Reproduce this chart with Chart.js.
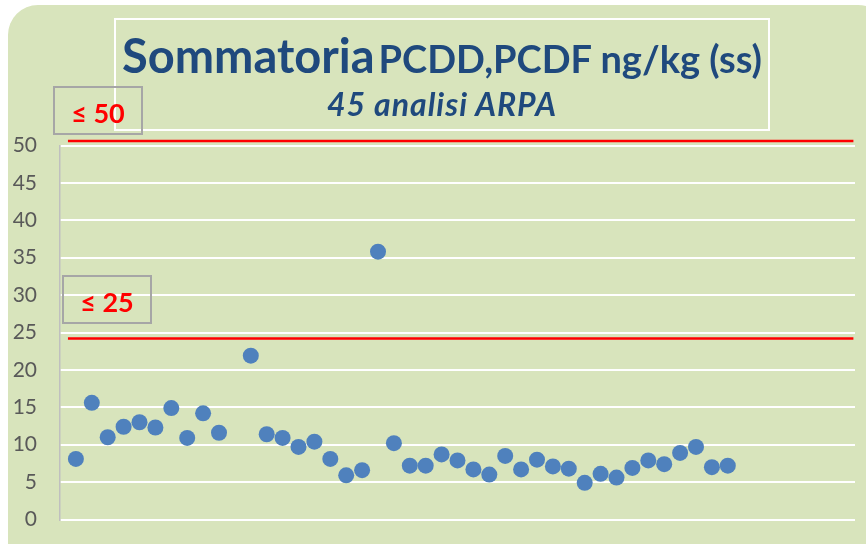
<!DOCTYPE html>
<html>
<head>
<meta charset="utf-8">
<script src="https://cdn.jsdelivr.net/npm/chart.js@4"></script>
<style>
  html, body { margin: 0; padding: 0; background: #ffffff; }
  #wrap { position: relative; width: 866px; height: 544px; overflow: hidden; background: #ffffff; }
  #card { position: absolute; left: 8px; top: 5px; width: 880px; height: 580px; background: #D8E4BC; border-radius: 30px; }
  #chart { position: absolute; left: 0; top: 0; }
  .box { position: absolute; box-sizing: border-box; }
  #titleBox { left: 114px; top: 18px; width: 656px; height: 113px; border: 2px solid #ffffff; }
  #t1 { position: absolute; left: 0; width: 100%; top: 12px; text-align: center; white-space: nowrap;
        font-family: Lato, "Open Sans", sans-serif; font-weight: bold; color: #1F497D; line-height: 1; }
  #t1 .big { font-size: 47px; }
  #t1 .small { font-size: 38px; }
  #t2 { position: absolute; left: 0; width: 100%; top: 68px; text-align: center; white-space: nowrap;
        font-family: Lato, "Open Sans", sans-serif; font-weight: bold; font-style: italic; font-size: 32px;
        letter-spacing: 1px; color: #1F497D; line-height: 1; }
  .lim { border: 2px solid #A6A6A6; width: 90px; height: 49px; color: #FF0000; font-family: Lato, "Open Sans", sans-serif;
         font-weight: bold; font-size: 27px; line-height: 49px; text-align: center; }
  #lim50 { left: 53px; top: 86px; }
  #lim25 { left: 62px; top: 275px; }
</style>
</head>
<body>
<div id="wrap">
  <div id="card"></div>
  <canvas id="chart" width="866" height="544"></canvas>
  <div class="box" id="titleBox">
    <div id="t1"><span class="big">Sommatoria</span> <span class="small">PCDD,PCDF ng/kg (ss)</span></div>
    <div id="t2">45 analisi ARPA</div>
  </div>
  <div class="box lim" id="lim50">≤ 50</div>
  <div class="box lim" id="lim25">≤ 25</div>
</div>
<script>
// Sample numbers (position along the x axis) and measured values
const sampleIds = [1,2,3,4,5,6,7,8,9,10,12,13,14,15,16,17,18,19,20,21,22,23,24,25,26,27,28,29,30,31,32,33,34,35,36,37,38,39,40,41,42];
const sampleValues = [8.1,15.6,11.0,12.4,13.0,12.3,14.9,10.9,14.2,11.6,21.9,11.4,10.9,9.7,10.4,8.1,5.9,6.6,35.8,10.2,7.2,7.2,8.7,7.9,6.7,6.0,8.5,6.7,8.0,7.1,6.8,4.9,6.1,5.6,6.9,7.9,7.4,8.9,9.7,7.0,7.2];
// Limit lines as drawn in the picture
const limitHigh = 50.6;
const limitLow = 24.2;
const limitSpan = [0.5, 49.9];
// Axis
const yMin = 0, yMax = 50, yStep = 5;
const xMin = 0, xMax = 50;

const points = sampleIds.map((id, i) => ({ x: id, y: sampleValues[i] }));
const lineOf = v => limitSpan.map(x => ({ x: x, y: v }));

new Chart(document.getElementById('chart'), {
  type: 'scatter',
  data: {
    datasets: [
      { label: 'limit50', type: 'line', data: lineOf(limitHigh), borderColor: '#FF0000', borderWidth: 2.5,
        pointRadius: 0, fill: false, clip: false, order: 2 },
      { label: 'limit25', type: 'line', data: lineOf(limitLow), borderColor: '#FF0000', borderWidth: 2.5,
        pointRadius: 0, fill: false, clip: false, order: 2 },
      { label: 'PCDD/PCDF', data: points, backgroundColor: '#4F81BD', borderWidth: 0,
        pointRadius: 8, pointHoverRadius: 8, clip: false, order: 1 }
    ]
  },
  options: {
    responsive: false,
    devicePixelRatio: 1,
    animation: false,
    layout: { autoPadding: false, padding: { top: 145.5, bottom: 24.5, left: 0, right: 11 } },
    plugins: { legend: { display: false }, tooltip: { enabled: false }, title: { display: false } },
    scales: {
      x: { type: 'linear', min: xMin, max: xMax, display: false },
      y: {
        min: yMin, max: yMax,
        ticks: { stepSize: yStep, color: '#595959', padding: 23,
                 font: { family: 'Lato, "Open Sans", sans-serif', size: 21 } },
        grid: { color: '#FFFFFF', lineWidth: 2, drawTicks: false },
        border: { display: true, color: '#BFBFBF', width: 1.5 },
        afterFit: s => { s.width = 60; s.paddingTop = 12; s.paddingBottom = 12; }
      }
    }
  }
});
</script>
</body>
</html>
